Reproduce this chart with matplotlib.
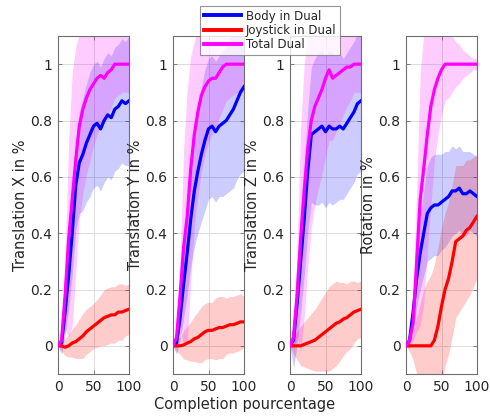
import matplotlib
matplotlib.use("Agg")
import matplotlib.pyplot as plt

# ── data (one row per panel: X, Y, Z, rotation) ───────────────────────────────
completion = [0, 5, 10, 15, 20, 25, 30, 35, 40, 45, 50,
              55, 60, 65, 70, 75, 80, 85, 90, 95, 100]

ylabels = ["Translation X in %", "Translation Y in %",
           "Translation Z in %", "Rotation in %"]
series_names = ["Body in Dual", "Joystick in Dual", "Total Dual"]

body_mean = [
    [0, 0.01, 0.12, 0.25, 0.40, 0.57, 0.65, 0.68, 0.72, 0.75, 0.78, 0.79, 0.77, 0.80, 0.82, 0.81, 0.84, 0.85, 0.87, 0.86, 0.87],
    [0, 0.01, 0.10, 0.22, 0.33, 0.45, 0.55, 0.62, 0.68, 0.73, 0.77, 0.78, 0.76, 0.78, 0.79, 0.80, 0.82, 0.84, 0.87, 0.90, 0.92],
    [0, 0.02, 0.15, 0.30, 0.45, 0.62, 0.75, 0.76, 0.77, 0.78, 0.76, 0.78, 0.77, 0.77, 0.78, 0.77, 0.79, 0.81, 0.83, 0.86, 0.87],
    [0, 0.02, 0.12, 0.24, 0.33, 0.40, 0.47, 0.49, 0.50, 0.50, 0.51, 0.52, 0.53, 0.55, 0.55, 0.56, 0.54, 0.54, 0.55, 0.54, 0.53],
]
body_std = [
    [0, 0.04, 0.08, 0.12, 0.15, 0.16, 0.18, 0.2, 0.21, 0.22, 0.22, 0.22, 0.22, 0.22, 0.22, 0.22, 0.22, 0.22, 0.22, 0.22, 0.23],
    [0, 0.04, 0.08, 0.12, 0.15, 0.17, 0.2, 0.22, 0.24, 0.25, 0.25, 0.25, 0.25, 0.25, 0.26, 0.26, 0.27, 0.28, 0.28, 0.29, 0.30],
    [0, 0.10, 0.15, 0.18, 0.2, 0.22, 0.24, 0.26, 0.27, 0.27, 0.27, 0.27, 0.27, 0.26, 0.26, 0.25, 0.25, 0.25, 0.25, 0.25, 0.25],
    [0, 0.03, 0.06, 0.1, 0.13, 0.15, 0.17, 0.18, 0.18, 0.18, 0.17, 0.17, 0.16, 0.16, 0.15, 0.15, 0.15, 0.15, 0.14, 0.14, 0.14],
]
joy_mean = [
    [0, 0, -0.005, 0, 0.01, 0.015, 0.025, 0.035, 0.05, 0.06, 0.07, 0.08, 0.09, 0.10, 0.105, 0.11, 0.11, 0.12, 0.12, 0.125, 0.13],
    [0, 0, 0, 0.003, 0.01, 0.015, 0.025, 0.03, 0.04, 0.05, 0.055, 0.055, 0.06, 0.065, 0.065, 0.07, 0.075, 0.075, 0.08, 0.085, 0.085],
    [0, 0, 0, 0, 0.005, 0.01, 0.015, 0.02, 0.03, 0.04, 0.05, 0.06, 0.07, 0.08, 0.085, 0.095, 0.10, 0.11, 0.12, 0.125, 0.13],
    [0, 0, 0, 0, 0, 0, 0, 0, 0.02, 0.07, 0.14, 0.20, 0.24, 0.30, 0.37, 0.38, 0.39, 0.41, 0.42, 0.44, 0.46],
]
joy_std = [
    [0, 0.02, 0.03, 0.04, 0.05, 0.06, 0.07, 0.08, 0.08, 0.08, 0.08, 0.085, 0.09, 0.10, 0.10, 0.10, 0.10, 0.10, 0.10, 0.09, 0.09],
    [0, 0.02, 0.03, 0.05, 0.06, 0.07, 0.08, 0.09, 0.10, 0.10, 0.10, 0.10, 0.11, 0.11, 0.11, 0.10, 0.10, 0.10, 0.10, 0.10, 0.09],
    [0, 0.03, 0.05, 0.07, 0.08, 0.09, 0.10, 0.11, 0.12, 0.13, 0.14, 0.15, 0.15, 0.15, 0.14, 0.13, 0.12, 0.12, 0.11, 0.10, 0.10],
    [0, 0.02, 0.05, 0.10, 0.15, 0.20, 0.23, 0.25, 0.27, 0.28, 0.28, 0.27, 0.27, 0.27, 0.27, 0.26, 0.25, 0.25, 0.24, 0.23, 0.22],
]
total_mean = [
    [0, 0.02, 0.18, 0.38, 0.52, 0.66, 0.78, 0.84, 0.88, 0.91, 0.93, 0.95, 0.96, 0.95, 0.97, 0.98, 1.0, 1.0, 1.0, 1.0, 1.0],
    [0, 0.03, 0.18, 0.35, 0.46, 0.63, 0.75, 0.83, 0.89, 0.92, 0.94, 0.95, 0.95, 0.97, 0.99, 1.0, 1.0, 1.0, 1.0, 1.0, 1.0],
    [0, 0.03, 0.18, 0.38, 0.55, 0.70, 0.80, 0.85, 0.88, 0.91, 0.95, 0.98, 0.95, 0.96, 0.97, 0.98, 0.99, 0.99, 1.0, 1.0, 1.0],
    [0, 0.02, 0.08, 0.30, 0.52, 0.63, 0.75, 0.85, 0.91, 0.95, 0.98, 1.0, 1.0, 1.0, 1.0, 1.0, 1.0, 1.0, 1.0, 1.0, 1.0],
]
total_std = [
    [0, 0.03, 0.12, 0.35, 0.45, 0.4, 0.33, 0.3, 0.27, 0.25, 0.22, 0.20, 0.18, 0.16, 0.15, 0.13, 0.12, 0.11, 0.10, 0.10, 0.10],
    [0, 0.03, 0.12, 0.35, 0.45, 0.4, 0.33, 0.3, 0.27, 0.24, 0.22, 0.20, 0.18, 0.16, 0.15, 0.13, 0.12, 0.11, 0.10, 0.10, 0.10],
    [0, 0.04, 0.15, 0.4, 0.45, 0.42, 0.38, 0.35, 0.32, 0.30, 0.28, 0.25, 0.22, 0.20, 0.18, 0.16, 0.14, 0.12, 0.10, 0.10, 0.10],
    [0, 0.02, 0.06, 0.25, 0.45, 0.48, 0.42, 0.35, 0.25, 0.20, 0.16, 0.13, 0.12, 0.10, 0.08, 0.07, 0.05, 0.04, 0.03, 0.02, 0.02],
]

yticks = [0, 0.2, 0.4, 0.6, 0.8, 1.0]
ytick_labels = ["0", "0.2", "0.4", "0.6", "0.8", "1"]
xticks = [0, 50, 100]

# ── styling ───────────────────────────────────────────────────────────────────
COLORS = ["#0000ff", "#ff0000", "#ff00ff"]
TEXT = "#262626"
AX_EDGE = "#6e6e6e"
plt.rcParams["font.family"] = ["DejaVu Sans"]

fig = plt.figure(figsize=(4.9, 4.16), dpi=100)
W, H = 490, 416
lefts = [58, 173, 290, 406]
ax_w, ax_top, ax_bot = 71, 36, 374

handles = []
for i in range(4):
    ax = fig.add_axes([lefts[i] / W, 1 - ax_bot / H, ax_w / W, (ax_bot - ax_top) / H])
    groups = [(body_mean[i], body_std[i]), (joy_mean[i], joy_std[i]), (total_mean[i], total_std[i])]
    for (m, s), c in zip(groups, COLORS):
        lo = [a - b for a, b in zip(m, s)]
        hi = [a + b for a, b in zip(m, s)]
        ax.fill_between(completion, lo, hi, color=c, alpha=0.2, lw=0, zorder=1)
    lines = []
    for (m, s), c, name in zip(groups, COLORS, series_names):
        ln, = ax.plot(completion, m, color=c, lw=2.3, label=name, zorder=3)
        lines.append(ln)
    handles = lines

    ax.set_xlim(0, 100)
    ax.set_ylim(-0.1, 1.1)
    ax.set_xticks(xticks)
    ax.set_yticks(yticks)
    ax.set_yticklabels(ytick_labels)
    ax.grid(True, color="#dcdcdc", lw=0.7, zorder=0)
    ax.set_axisbelow(True)
    ax.tick_params(direction="in", top=True, right=True, length=3, width=0.6,
                   labelsize=10, colors=AX_EDGE, labelcolor=TEXT, pad=4)
    for sp in ax.spines.values():
        sp.set_color(AX_EDGE)
        sp.set_linewidth(0.8)
    ax.set_ylabel(ylabels[i], fontsize=10.5, color=TEXT, labelpad=2)

fig.text(245 / W, 1 - 405 / H, "Completion pourcentage", ha="center", va="center",
         fontsize=10.5, color=TEXT)

leg = fig.legend(handles, series_names, loc="upper left",
                 bbox_to_anchor=(200 / W, 1 - 6 / H), fontsize=8.5,
                 frameon=True, fancybox=False, handlelength=3.2, handletextpad=0.4,
                 borderpad=0.3, labelspacing=0.12, borderaxespad=0)
leg.get_frame().set_edgecolor("#7a7a7a")
leg.get_frame().set_linewidth(0.8)
for t in leg.get_texts():
    t.set_color(TEXT)
for ln in leg.get_lines():
    ln.set_linewidth(2.8)

fig.savefig("out.png", dpi=100, facecolor="white")
